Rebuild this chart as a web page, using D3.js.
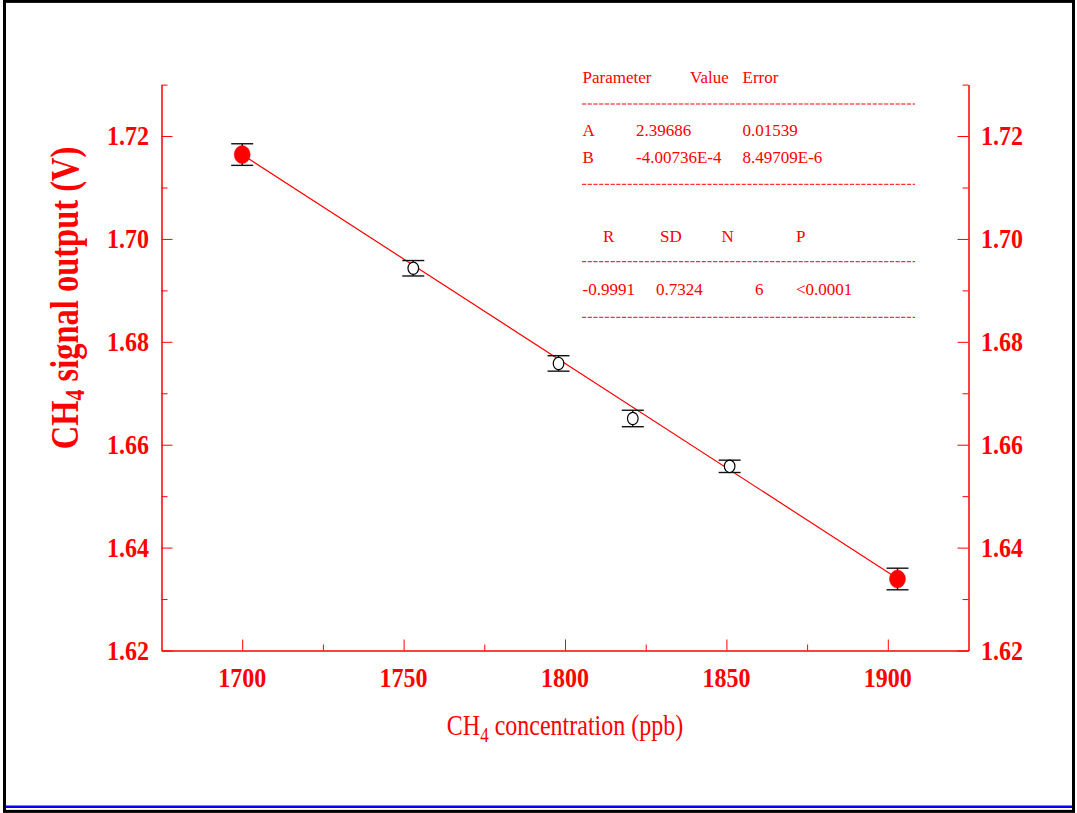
<!DOCTYPE html>
<html>
<head>
<meta charset="utf-8">
<script src="https://cdn.jsdelivr.net/npm/d3@7/dist/d3.min.js"></script>
<style>
  html, body { margin: 0; padding: 0; background: #fff; }
  svg { display: block; }
  text { font-family: "Liberation Serif", "Times New Roman", Times, serif; }
</style>
</head>
<body>
<svg id="chart" width="1077" height="813"></svg>
<script>
// ---------------- data ----------------
const concentration = [1700, 1753, 1798, 1821, 1851, 1903];          // ppb
const signal        = [1.7164, 1.6943, 1.6758, 1.6651, 1.6558, 1.6339]; // V
const signalErr     = [0.0021, 0.0015, 0.0015, 0.0016, 0.0012, 0.0021];
const isReference   = [true, false, false, false, false, true];

const fitX = [1700, 1903];
const fitY = [1.7164, 1.6340];

const xMajorTicks = [1700, 1750, 1800, 1850, 1900];
const xMinorTicks = [1725, 1775, 1825, 1875];
const yMajorTicks = [1.62, 1.64, 1.66, 1.68, 1.70, 1.72];
const yMinorTicks = [1.63, 1.65, 1.67, 1.69, 1.71, 1.73];

const paramHeader = ["Parameter", "Value", "Error"];
const paramRows   = [["A", "2.39686", "0.01539"], ["B", "-4.00736E-4", "8.49709E-6"]];
const statHeader  = ["R", "SD", "N", "P"];
const statValues  = ["-0.9991", "0.7324", "6", "<0.0001"];

// ---------------- layout ----------------
const RED = "#ff0000";
const svg = d3.select("#chart");

const x = d3.scaleLinear().domain([1675, 1925]).range([161.5, 968.5]);
const y = d3.scaleLinear().domain([1.62, 1.73]).range([650.5, 84.6]);

// frame
svg.append("rect").attr("x", 4.5).attr("y", 1.4).attr("width", 1069).attr("height", 810)
  .attr("fill", "none").attr("stroke", "#000").attr("stroke-width", 3);
svg.append("line").attr("x1", 6).attr("x2", 1072).attr("y1", 806.8).attr("y2", 806.8)
  .attr("stroke", "#0000ff").attr("stroke-width", 2.6);

const STRETCH = 1.16;

function styleAxis(g) {
  g.selectAll("path.domain").attr("stroke", RED).attr("stroke-width", 1);
  g.selectAll(".tick line").attr("stroke", RED).attr("stroke-width", 1);
  g.selectAll("text").remove();
}

// left axis
const gLeft = svg.append("g").attr("transform", `translate(${x.range()[0]},0)`);
gLeft.call(d3.axisLeft(y).tickValues(yMajorTicks).tickSizeInner(-11).tickSizeOuter(0).tickFormat(""));
styleAxis(gLeft);
const gLeftMinor = svg.append("g").attr("transform", `translate(${x.range()[0]},0)`);
gLeftMinor.call(d3.axisLeft(y).tickValues(yMinorTicks).tickSizeInner(-6).tickSizeOuter(0).tickFormat(""));
styleAxis(gLeftMinor);

// right axis
const gRight = svg.append("g").attr("transform", `translate(${x.range()[1]},0)`);
gRight.call(d3.axisRight(y).tickValues(yMajorTicks).tickSizeInner(-11).tickSizeOuter(0).tickFormat(""));
styleAxis(gRight);
const gRightMinor = svg.append("g").attr("transform", `translate(${x.range()[1]},0)`);
gRightMinor.call(d3.axisRight(y).tickValues(yMinorTicks).tickSizeInner(-6).tickSizeOuter(0).tickFormat(""));
styleAxis(gRightMinor);

// bottom axis
const gBottom = svg.append("g").attr("transform", `translate(0,${y.range()[0]})`);
gBottom.call(d3.axisBottom(x).tickValues(xMajorTicks).tickSizeInner(-11).tickSizeOuter(0).tickFormat(""));
styleAxis(gBottom);
const gBottomMinor = svg.append("g").attr("transform", `translate(0,${y.range()[0]})`);
gBottomMinor.call(d3.axisBottom(x).tickValues(xMinorTicks).tickSizeInner(-6).tickSizeOuter(0).tickFormat(""));
styleAxis(gBottomMinor);

// tick labels (stretched bold Times)
const fmt2 = d3.format(".2f");
function stretchedText(px, py, str, anchor, size, weight, sy) {
  return svg.append("text")
    .attr("transform", `translate(${px},${py}) scale(1,${sy})`)
    .attr("text-anchor", anchor)
    .attr("font-size", size)
    .attr("font-weight", weight)
    .attr("fill", RED)
    .text(str);
}
yMajorTicks.forEach(v => {
  stretchedText(149, y(v) + 9, fmt2(v), "end", 24, "bold", STRETCH);
  stretchedText(981, y(v) + 9, fmt2(v), "start", 24, "bold", STRETCH);
});
xMajorTicks.forEach(v => {
  stretchedText(x(v), 687, String(v), "middle", 24, "bold", STRETCH);
});

// axis titles
const xt = svg.append("text")
  .attr("transform", `translate(565,735) scale(1,1.22)`)
  .attr("text-anchor", "middle").attr("font-size", 24).attr("fill", RED);
xt.append("tspan").text("CH");
xt.append("tspan").attr("font-size", 17).attr("dy", 6).text("4");
xt.append("tspan").attr("dy", -6).text(" concentration (ppb)");

const yt = svg.append("text")
  .attr("transform", `translate(78,298) rotate(-90) scale(1,1.2)`)
  .attr("text-anchor", "middle").attr("font-size", 32.5).attr("font-weight", "bold").attr("fill", RED);
yt.append("tspan").text("CH");
yt.append("tspan").attr("font-size", 22).attr("dy", 5).text("4");
yt.append("tspan").attr("dy", -5).text(" signal output (V)");

// fit line
const pts = concentration.map((c, i) => ({c, v: signal[i], e: signalErr[i], ref: isReference[i]}));
svg.append("path")
  .datum(fitX.map((c, i) => [c, fitY[i]]))
  .attr("fill", "none").attr("stroke", RED).attr("stroke-width", 1.2)
  .attr("d", d3.line().x(d => x(d[0])).y(d => y(d[1])));

// error bars
const eb = svg.append("g").attr("stroke", "#111").attr("stroke-width", 1.4);
pts.forEach(p => {
  const cx = x(p.c);
  eb.append("line").attr("x1", cx).attr("x2", cx).attr("y1", y(p.v + p.e)).attr("y2", y(p.v - p.e));
  eb.append("line").attr("x1", cx - 11).attr("x2", cx + 11).attr("y1", y(p.v + p.e)).attr("y2", y(p.v + p.e));
  eb.append("line").attr("x1", cx - 11).attr("x2", cx + 11).attr("y1", y(p.v - p.e)).attr("y2", y(p.v - p.e));
});

// markers
svg.append("g").selectAll("ellipse").data(pts).join("ellipse")
  .attr("cx", d => x(d.c)).attr("cy", d => y(d.v))
  .attr("rx", d => d.ref ? 8 : 5.3).attr("ry", d => d.ref ? 9 : 6.2)
  .attr("fill", d => d.ref ? RED : "#fff")
  .attr("stroke", d => d.ref ? RED : "#000")
  .attr("stroke-width", d => d.ref ? 0.5 : 1.2);

// results box
const box = svg.append("g").attr("fill", RED).attr("font-size", 17);
const hx = [582.5, 690, 742.5];
paramHeader.forEach((t, i) => box.append("text").attr("x", hx[i]).attr("y", 83).attr("fill", RED).text(t));
const rx = [582.5, 636, 742.5];
paramRows.forEach((row, r) => row.forEach((t, i) =>
  box.append("text").attr("x", rx[i]).attr("y", 136 + r * 27.3).attr("fill", RED).text(t)));
const sx = [603, 660, 721.5, 796];
statHeader.forEach((t, i) => box.append("text").attr("x", sx[i]).attr("y", 241.7).attr("fill", RED).text(t));
const vx = [582.5, 656, 755, 796];
statValues.forEach((t, i) => box.append("text").attr("x", vx[i]).attr("y", 295).attr("fill", RED).text(t));
[104, 184.3, 261.7, 317.3].forEach(yy =>
  svg.append("line").attr("x1", 582).attr("x2", 915).attr("y1", yy).attr("y2", yy)
    .attr("stroke", RED).attr("stroke-width", 1).attr("stroke-dasharray", "4.2,1.5"));
</script>
</body>
</html>
